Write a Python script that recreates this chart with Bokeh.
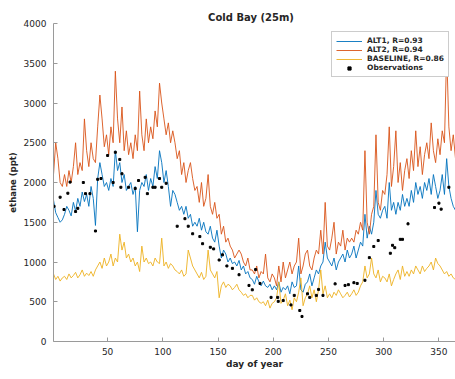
from bokeh.plotting import figure
from bokeh.models import FixedTicker, Legend, LegendItem, Range1d
from bokeh.embed import file_html
from bokeh.resources import INLINE

# ---------------- data ----------------
days = list(range(1, 366, 2))

alt1 = [
    1780, 1620, 1560, 1500, 1530,   1600, 1700, 1650, 1580, 1750,
    1640, 1800, 1700, 1880, 1760,   1850, 1700, 1950, 1800, 1460,
    2050, 2250, 2100, 1950, 2000,   1900, 2050, 1950, 2400, 2150,
    2250, 2000, 2100, 1900, 1950,   2000, 1850, 1950, 1380, 1900,
    2000, 1950, 2100, 1900, 2050,   1950, 2200, 2050, 2400, 2250,
    2000, 2150, 1950, 1700, 1900,   1850, 1750, 1650, 1700, 1600,
    1700, 1550, 1600, 1450, 1500,   1450, 1550, 1400, 1500, 1380,
    1350, 1450, 1300, 1250, 1400,   1200, 1050, 1150, 1100, 1000,
    1050, 980, 1000, 950, 1020,     900, 950, 850, 880, 800,
    780, 720, 820, 750, 700,        760, 700, 680, 720, 650,
    700, 650, 750, 620, 680,        650, 700, 600, 750, 680,
    700, 950, 650, 620, 720,        750, 850, 700, 800, 900,
    850, 950, 1000, 1250, 1050,     1000, 950, 1050, 900, 1000,
    1050, 1100, 1000, 1150, 1050,   1100, 1200, 1050, 1150, 1250,
    1200, 1600, 1300, 1450, 1350,   1500, 1900, 1600, 1550, 1650,
    1700, 1550, 2000, 1650, 1750,   1600, 1750, 1650, 1850, 1700,
    1800, 1700, 1900, 1750, 2000,   1850, 1950, 1800, 2000, 1900,
    2050, 1850, 2100, 1950, 1800,   1900, 2100, 1850, 2300, 1950,
    1800, 1700, 1650,
]

alt2 = [
    2100, 2500, 2300, 2000, 1950,   2100, 1950, 2150, 2000, 2200,
    2500, 2100, 2250, 2150, 2800,   2400, 2200, 2500, 2300, 2250,
    2700, 3100, 2800, 2450, 2600,   2350, 2700, 2500, 3400, 2800,
    2500, 2950, 2400, 2650, 2350,   2500, 2300, 2600, 2400, 3150,
    2600, 2400, 2800, 2500, 2700,   2550, 2900, 2700, 3250, 3000,
    2800, 2600, 2750, 2500, 2650,   2500, 2300, 2400, 2100, 2250,
    2000, 2150, 2250, 2050, 1900,   1950, 1750, 2000, 1700, 1800,
    2100, 1700, 1600, 1750, 1550,   1600, 1350, 1450, 1250, 1300,
    1200, 1150, 1050, 1100, 1150,   1100, 1000, 950, 1050, 900,
    900, 850, 950, 800, 880,        850, 1100, 800, 750, 850,
    800, 700, 950, 750, 1000,       800, 900, 1000, 850, 950,
    1000, 1300, 850, 950, 1100,     1150, 950, 900, 1050, 1150,
    1100, 1400, 1100, 1750, 1200,   1150, 1300, 1500, 1100, 1250,
    1200, 1400, 1150, 1300, 1250,   1300, 1250, 1400, 1350, 1500,
    1400, 2400, 1500, 1350, 1600,   1700, 2600, 1750, 1650, 1900,
    1850, 2100, 2700, 1950, 2200,   2650, 2000, 2250, 1900, 2150,
    2300, 2050, 2400, 2150, 2650,   2200, 2450, 2100, 2350, 2500,
    2300, 2750, 2400, 2250, 2550,   2350, 2650, 2500, 3650, 2700,
    2400, 2600, 2300,
]

baseline = [
    850, 780, 820, 760, 800,        820, 780, 850, 800, 830,
    870, 800, 840, 900, 820,        860, 830, 880, 820, 900,
    950, 1000, 920, 1050, 950,      1000, 1100, 950, 1050, 1000,
    1350, 1150, 1250, 1050, 1100,   1000, 1050, 950, 1000, 880,
    1200, 1000, 1050, 980, 1000,    950, 1050, 1000, 980, 1300,
    950, 1000, 920, 980, 950,       900, 880, 850, 900, 820,
    850, 1150, 1050, 950, 900,      850, 800, 870, 780, 820,
    1150, 900, 850, 800, 880,       550, 700, 750, 680, 720,
    700, 650, 680, 720, 650,        620, 580, 600, 550, 580,
    580, 520, 550, 500, 480,        500, 450, 520, 420, 480,
    500, 550, 750, 480, 520,        600, 450, 520, 400, 550,
    500, 620, 800, 450, 550,        600, 700, 550, 650, 500,
    650, 900, 600, 700, 550,        600, 550, 620, 580, 650,
    600, 550, 580, 620, 560,        600, 650, 580, 620, 700,
    750, 950, 800, 850, 1050,       850, 800, 900, 750, 820,
    800, 750, 850, 700, 780,        850, 900, 780, 950, 820,
    880, 820, 900, 850, 950,        900, 850, 950, 880, 920,
    950, 1000, 900, 1050, 980,      950, 900, 850, 880, 820,
    850, 800, 780,
]

obs_day = [1.5, 7, 10.5, 14, 16, 21, 23, 28, 30, 34, 39, 41, 44, 50, 55, 57,
           61, 62, 63, 69, 75, 78, 84, 86, 91, 93, 97, 99, 103, 113, 120, 123,
           127, 133.5, 136, 143, 146, 151, 154, 158, 163, 169, 178, 181, 184,
           188, 198, 204, 204.5, 209, 216, 219, 224, 226, 231, 233, 239, 241,
           245, 256, 265, 268, 273, 276, 283, 287, 291, 295, 306, 308, 310,
           315, 317, 322, 346, 350, 352, 359]
obs_val = [1700, 1815, 1660, 1865, 2005, 1635, 1675, 2000, 1860, 1860, 1390,
           2040, 2050, 2340, 2000, 2380, 2290, 1940, 2110, 1940, 1925, 2025,
           2065, 1860, 1940, 1940, 2050, 1940, 1990, 1450, 1545, 1450, 1355,
           1320, 1230, 1185, 1165, 1025, 1090, 950, 920, 840, 705, 650, 905,
           730, 555, 555, 505, 515, 460, 580, 390, 315, 600, 555, 580, 655,
           580, 725, 705, 715, 740, 730, 770, 1055, 1195, 1270, 1110, 1210,
           1180, 1285, 1285, 1480, 1685, 1740, 1665, 1940]

x_ticks = [50, 100, 150, 200, 250, 300, 350]
y_ticks = [0, 500, 1000, 1500, 2000, 2500, 3000, 3500, 4000]

series_labels = ["ALT1, R=0.93", "ALT2, R=0.94", "BASELINE, R=0.86", "Observations"]

# ---------------- figure ----------------
FONT = "DejaVu Sans"
TXT = "#262626"
AX = "#9a9a9a"

p = figure(width=455, height=379, output_backend="svg", toolbar_location=None,
           x_range=Range1d(1, 365), y_range=Range1d(0, 4000),
           min_border_left=53, min_border_right=0, min_border_top=23,
           min_border_bottom=38)

p.title.text = "Cold Bay   (25m)"
p.title.align = "center"
p.title.text_font = FONT
p.title.text_font_size = "10px"
p.title.text_font_style = "bold"
p.title.text_color = TXT
p.title.standoff = 2

p.outline_line_color = None
p.xgrid.visible = False
p.ygrid.visible = False

for ax in (p.xaxis[0], p.yaxis[0]):
    ax.axis_line_color = AX
    ax.major_tick_line_color = AX
    ax.major_tick_in = 4
    ax.major_tick_out = 0
    ax.minor_tick_line_color = None
    ax.major_label_text_font = FONT
    ax.major_label_text_font_size = "9px"
    ax.major_label_text_color = TXT
    ax.axis_label_text_font = FONT
    ax.axis_label_text_font_style = "bold"
    ax.axis_label_text_color = TXT

p.xaxis.ticker = FixedTicker(ticks=x_ticks)
p.yaxis.ticker = FixedTicker(ticks=y_ticks)
p.xaxis.axis_label = "day of year"
p.yaxis.axis_label = "ethane (ppt)"
p.xaxis.axis_label_text_font_size = "9px"
p.yaxis.axis_label_text_font_size = "8.5px"
p.xaxis.major_label_standoff = 6
p.yaxis.major_label_standoff = 7
p.xaxis.axis_label_standoff = 1
p.yaxis.axis_label_standoff = 3

r1 = p.line(days, alt1, line_color="#0072BD", line_width=0.9)
r2 = p.line(days, alt2, line_color="#D95319", line_width=0.9)
r3 = p.line(days, baseline, line_color="#EDB120", line_width=0.9)
r4 = p.scatter(obs_day, obs_val, size=2.0, marker="square",
               fill_color="black", line_color="black")

legend = Legend(items=[LegendItem(label=series_labels[0], renderers=[r1]),
                       LegendItem(label=series_labels[1], renderers=[r2]),
                       LegendItem(label=series_labels[2], renderers=[r3]),
                       LegendItem(label=series_labels[3], renderers=[r4])],
                location=(278, 264))
legend.label_text_font = FONT
legend.label_text_font_size = "7.5px"
legend.label_text_font_style = "bold"
legend.label_text_color = TXT
legend.label_height = 8
legend.glyph_height = 8
legend.glyph_width = 26
legend.label_standoff = 5
legend.spacing = 0
legend.padding = 4
legend.margin = 0
legend.border_line_color = AX
legend.background_fill_alpha = 1
p.add_layout(legend)

open("out.html", "w").write(file_html(p, INLINE))
